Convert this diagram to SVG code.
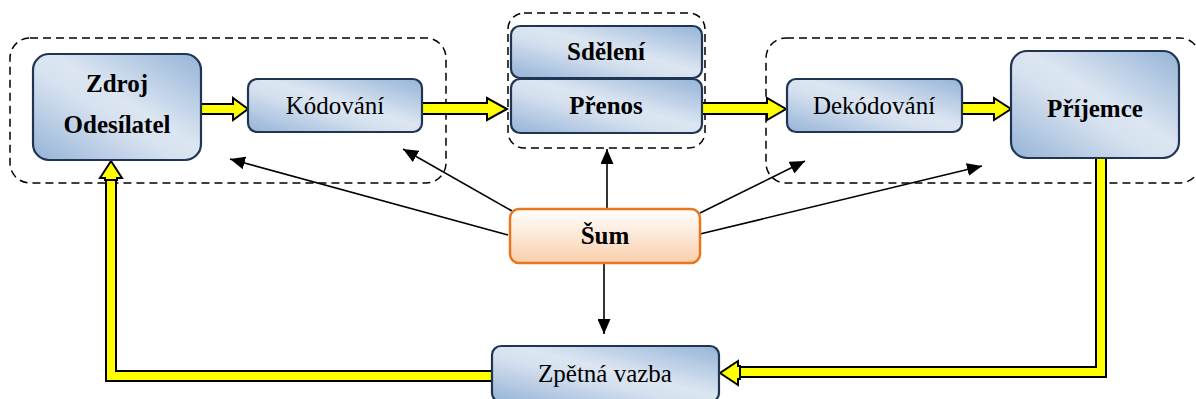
<svg xmlns="http://www.w3.org/2000/svg" width="1196" height="399" viewBox="0 0 1196 399">
  <defs>
    <linearGradient id="blueFill" x1="1" y1="0" x2="0" y2="1">
      <stop offset="0" stop-color="#95B3D7"/>
      <stop offset="0.45" stop-color="#DCE6F2"/>
      <stop offset="0.58" stop-color="#D6E1EF"/>
      <stop offset="1" stop-color="#95B3D7"/>
    </linearGradient>
    <linearGradient id="orangeFill" x1="0" y1="0" x2="0" y2="1">
      <stop offset="0" stop-color="#FFFFFF"/>
      <stop offset="1" stop-color="#F9CFAB"/>
    </linearGradient>
    <marker id="tipBig" viewBox="0 0 10 10" refX="10" refY="5" markerWidth="15" markerHeight="13" markerUnits="userSpaceOnUse" orient="auto" preserveAspectRatio="none">
      <path d="M0,0 L10,5 L0,10 Z" fill="#000"/>
    </marker>
  </defs>
  <style>
    .frame { fill: none; stroke: #000; stroke-width: 1.5; stroke-dasharray: 8 5; }
    .box { fill: url(#blueFill); stroke: #1F3552; stroke-width: 2.2; }
    .noise { fill: url(#orangeFill); stroke: #E8761E; stroke-width: 2.5; }
    .flow { fill: #FFFF00; stroke: #000; stroke-width: 2; stroke-linejoin: miter; }
    .casing { fill: none; stroke: #000; stroke-width: 12; stroke-linejoin: miter; }
    .core { fill: none; stroke: #FFFF00; stroke-width: 8; stroke-linejoin: miter; }
    .thin { fill: none; stroke: #000; stroke-width: 1.6; marker-end: url(#tipBig); }
    .lbl { font-family: "Liberation Serif", "Times New Roman", serif; font-size: 25px; fill: #000; text-anchor: middle; }
    .bold { font-weight: bold; font-size: 25px; }
  </style>

  <!-- dashed groupings -->
  <g id="frames">
    <rect class="frame" x="10" y="38" width="436" height="145" rx="20"/>
    <rect class="frame" x="508" y="13" width="197" height="135" rx="16"/>
    <rect class="frame" x="766" y="38" width="434" height="145" rx="20"/>
  </g>

  <!-- connectors -->
  <g id="connectors">
    <!-- yellow forward flow -->
    <polygon class="flow" points="201,104 233,104 233,98 248,109 233,120 233,114 201,114"/>
    <polygon class="flow" points="422,103 487,103 487,98 507,109 487,120 487,114 422,114"/>
    <polygon class="flow" points="702,103 767,103 767,98 786,109 767,120 767,114 702,114"/>
    <polygon class="flow" points="962,103 994,103 994,98 1011,109 994,120 994,114 962,114"/>

    <!-- feedback: receiver down and back to Zpětná vazba -->
    <polyline class="casing" points="1101,158 1101,372 736,372"/>
    <polyline class="core" points="1101,158 1101,372 736,372"/>
    <polygon class="flow" points="738,366 738,361 720,373 738,385 738,379 740,379 740,366"/>

    <!-- feedback: Zpětná vazba back to source -->
    <polyline class="casing" points="492,376 111,376 111,176"/>
    <polyline class="core" points="492,376 111,376 111,176"/>
    <polygon class="flow" points="105,178 100,178 111,161 122,178 117,178 117,180 105,180"/>

    <!-- noise influence -->
    <line class="thin" x1="508" y1="235" x2="230" y2="159"/>
    <line class="thin" x1="512" y1="211" x2="403" y2="149"/>
    <line class="thin" x1="607" y1="209" x2="607" y2="149"/>
    <line class="thin" x1="604" y1="263" x2="604" y2="334"/>
    <line class="thin" x1="700" y1="213" x2="805" y2="161"/>
    <line class="thin" x1="700" y1="234" x2="982" y2="166"/>
  </g>

  <g id="zdroj">
    <rect class="box" x="33" y="54" width="168" height="106" rx="16"/>
    <text class="lbl bold" x="117" y="92">Zdroj</text>
    <text class="lbl bold" x="117" y="133">Odesílatel</text>
  </g>

  <g id="kodovani">
    <rect class="box" x="248" y="79" width="174" height="53" rx="9"/>
    <text class="lbl" x="335" y="114">Kódování</text>
  </g>

  <g id="sdeleni">
    <rect class="box" x="511" y="26" width="191" height="52" rx="9"/>
    <text class="lbl bold" x="606" y="60">Sdělení</text>
  </g>

  <g id="prenos">
    <rect class="box" x="511" y="79" width="191" height="54" rx="9"/>
    <text class="lbl bold" x="606" y="114">Přenos</text>
  </g>

  <g id="dekodovani">
    <rect class="box" x="787" y="79" width="175" height="53" rx="9"/>
    <text class="lbl" x="874" y="114">Dekódování</text>
  </g>

  <g id="prijemce">
    <rect class="box" x="1011" y="51" width="168" height="107" rx="16"/>
    <text class="lbl bold" x="1095" y="117">Příjemce</text>
  </g>

  <g id="sum">
    <rect class="noise" x="510" y="209" width="190" height="54" rx="9"/>
    <text class="lbl bold" x="605" y="244">Šum</text>
  </g>

  <g id="zpetna-vazba">
    <rect class="box" x="492" y="346" width="227" height="56" rx="9"/>
    <text class="lbl" x="605" y="382">Zpětná vazba</text>
  </g>
</svg>
